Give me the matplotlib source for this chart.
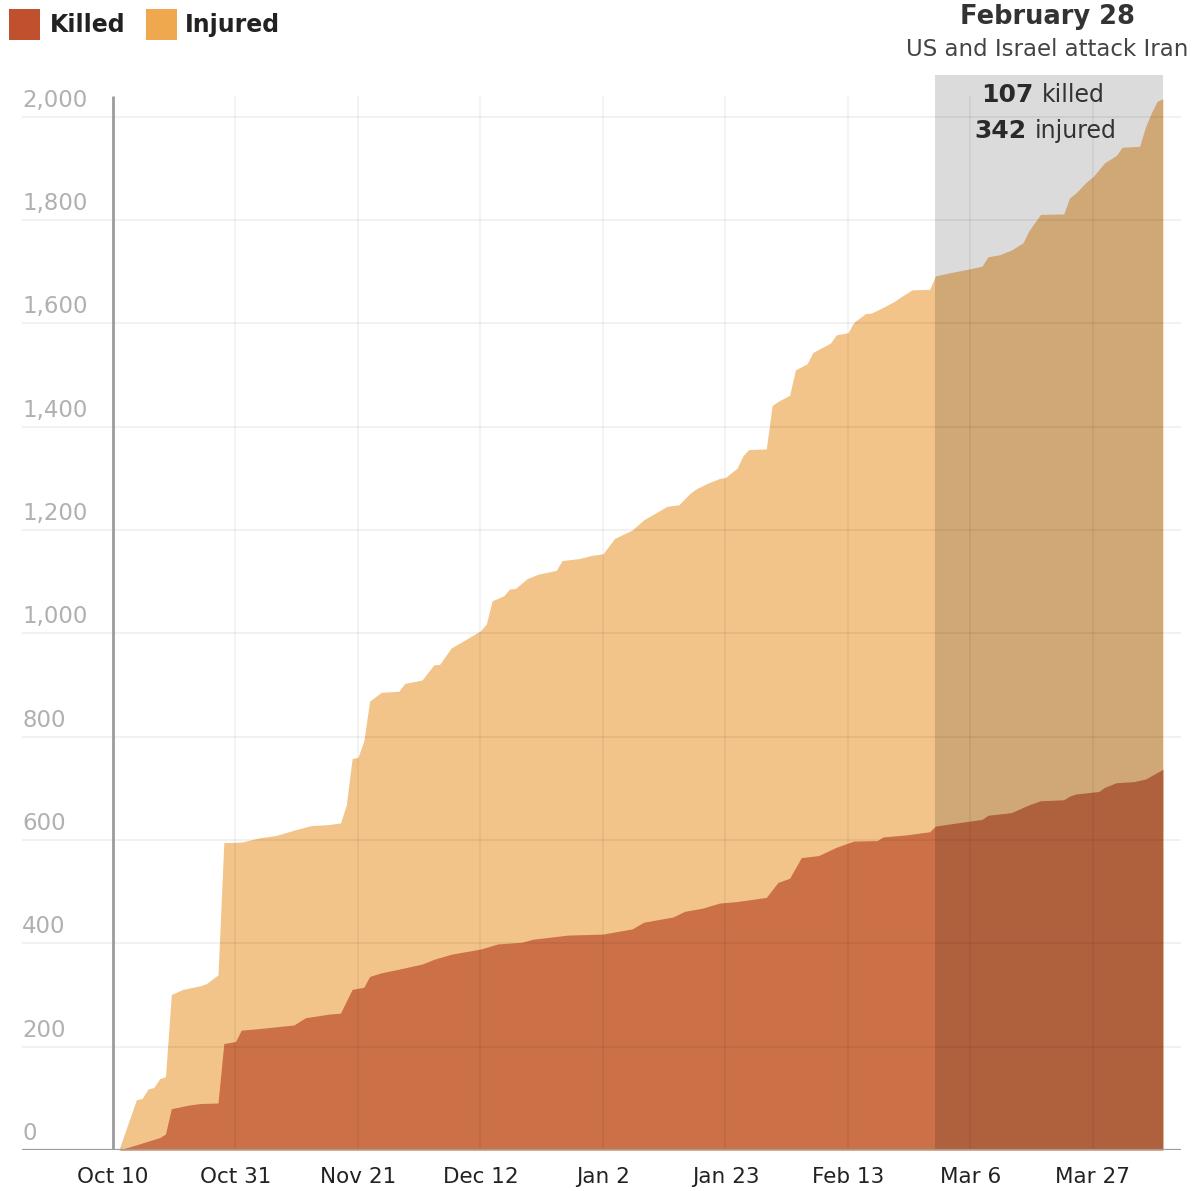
import numpy as np
import matplotlib
matplotlib.use("Agg")
import matplotlib.pyplot as plt
import matplotlib.dates as mdates
from matplotlib.patches import Rectangle

# ---------------- data ----------------
START = np.datetime64("2025-10-10")

# cumulative killed + injured (top of stack), by day since Oct 10, 2025
total_days = [1, 4, 5, 6, 7, 8, 9, 10, 12, 15, 16, 18, 19, 22, 25, 28, 31, 34, 37, 39,
              40, 41, 42, 43, 44, 46, 49, 50, 53, 55, 56, 58, 60, 63, 64, 65, 67, 68, 69,
              71, 73, 76, 77, 80, 82, 84, 86, 89, 91, 93, 95, 97, 99, 100, 102, 104, 105,
              107, 108, 109, 112, 113, 114, 116, 117, 119, 120, 121, 123, 124, 126, 127,
              129, 130, 132, 134, 135, 137, 140, 141, 143, 147, 149, 150, 152, 154, 156,
              157, 159, 163, 164, 165, 167, 168, 170, 172, 173, 176, 177, 178, 179, 180]
total_vals = [0, 97, 100, 118, 121, 138, 142, 301, 311, 318, 322, 339, 595, 596, 604, 609,
              619, 628, 630, 633, 668, 758, 760, 792, 869, 886, 888, 903, 910, 939, 940, 972,
              985, 1005, 1018, 1063, 1073, 1086, 1087, 1106, 1115, 1122, 1141, 1145, 1151,
              1154, 1184, 1200, 1220, 1233, 1246, 1249, 1272, 1280, 1291, 1300, 1302, 1320,
              1344, 1356, 1357, 1441, 1449, 1461, 1510, 1522, 1544, 1550, 1562, 1578, 1582,
              1602, 1619, 1620, 1631, 1643, 1651, 1665, 1666, 1692, 1697, 1706, 1711, 1729,
              1733, 1742, 1756, 1779, 1811, 1812, 1843, 1852, 1875, 1884, 1911, 1925, 1941,
              1943, 1980, 2007, 2030, 2035]

# cumulative killed (bottom of stack)
killed_days = [1, 4, 6, 8, 9, 10, 13, 15, 18, 19, 21, 22, 25, 31, 33, 37, 39, 41, 43, 44,
               46, 49, 51, 53, 55, 58, 63, 66, 70, 72, 78, 84, 89, 91, 96, 98, 101, 104,
               107, 112, 114, 116, 118, 121, 124, 127, 131, 132, 136, 140, 141, 144, 149,
               150, 154, 157, 159, 163, 164, 165, 169, 170, 172, 175, 177, 180]
killed_vals = [0, 10, 17, 24, 31, 80, 87, 90, 91, 206, 210, 232, 235, 242, 256, 263, 265,
               311, 315, 336, 343, 350, 355, 360, 369, 379, 389, 399, 402, 408, 416, 418,
               428, 441, 451, 462, 468, 478, 481, 489, 518, 526, 566, 570, 586, 598, 599,
               606, 610, 616, 627, 632, 640, 648, 653, 668, 676, 678, 685, 689, 694, 702,
               711, 713, 718, 737]

series_labels = ["Killed", "Injured"]
tick_dates = ["2025-10-10", "2025-10-31", "2025-11-21", "2025-12-12", "2026-01-02",
              "2026-01-23", "2026-02-13", "2026-03-06", "2026-03-27"]
tick_labels = ["Oct 10", "Oct 31", "Nov 21", "Dec 12", "Jan 2", "Jan 23", "Feb 13",
               "Mar 6", "Mar 27"]
y_ticks = [0, 200, 400, 600, 800, 1000, 1200, 1400, 1600, 1800, 2000]
y_labels = ["0", "200", "400", "600", "800", "1,000", "1,200", "1,400", "1,600",
            "1,800", "2,000"]
event_date = "2026-02-28"
end_date = "2026-04-08"
event_title = "February 28"
event_sub = "US and Israel attack Iran"
event_killed = "107"
event_injured = "342"

# ---------------- style ----------------
plt.rcParams["font.family"] = ["DejaVu Sans"]
KILLED_AREA = "#cc7048"
INJ_AREA = "#f2c489"
KILLED_KEY = "#c1512e"
INJ_KEY = "#f0a84f"
W, H = 1201, 1191

fig = plt.figure(figsize=(W / 100, H / 100), dpi=100)


def fx(px):
    return px / W


def fy(py):
    return 1 - py / H


ax = fig.add_axes([fx(22), fy(1150), (1181 - 22) / W, (1150 - 60) / H])

td = START + np.array(total_days).astype("timedelta64[D]")
kd = START + np.array(killed_days).astype("timedelta64[D]")
ax.fill_between(td, 0, total_vals, color=INJ_AREA, lw=0, zorder=1)
ax.fill_between(kd, 0, killed_vals, color=KILLED_AREA, lw=0, zorder=2)

x0 = mdates.date2num(START)
ax.set_xlim(x0 - 15.6, x0 + 183.1)
ax.set_ylim(0, 2110)

# shaded event window
xe = mdates.date2num(np.datetime64(event_date))
xend = mdates.date2num(np.datetime64(end_date))
ax.add_patch(Rectangle((xe, 0), xend - xe, 2080, facecolor="black", alpha=0.14,
                       lw=0, zorder=4))

# grid
for v in y_ticks[1:]:
    ax.axhline(v, color="black", alpha=0.07, lw=1.1, zorder=5)
tdn = [mdates.date2num(np.datetime64(d)) for d in tick_dates]
for t in tdn[1:]:
    ax.vlines(t, 0, 2040, color="black", alpha=0.06, lw=1.1, zorder=5)
ax.vlines(tdn[0], 0, 2040, color="#9c9c9c", lw=2, zorder=6)
ax.axhline(0, color="#9c9c9c", lw=1.6, zorder=6)

for s in ax.spines.values():
    s.set_visible(False)
ax.set_yticks([])
ax.set_xticks(tdn)
ax.set_xticklabels(tick_labels, fontsize=15.5, color="#222222")
ax.tick_params(axis="x", length=0, pad=12)
ax.patch.set_alpha(0)

# y labels above grid lines
for v, lab in zip(y_ticks, y_labels):
    ax.annotate(lab, xy=(0, v), xycoords=("axes fraction", "data"),
                xytext=(0, 7.2), textcoords="offset points", ha="left",
                va="baseline", fontsize=16.5, color="#b0b0b0", zorder=7)

# legend
fig.add_artist(Rectangle((fx(9), fy(40)), 31 / W, 31 / H, transform=fig.transFigure,
                         facecolor=KILLED_KEY, lw=0))
fig.add_artist(Rectangle((fx(146), fy(40)), 31 / W, 31 / H, transform=fig.transFigure,
                         facecolor=INJ_KEY, lw=0))
fig.text(fx(50), fy(25), series_labels[0], fontsize=17, fontweight="bold",
         color="#222222", ha="left", va="center")
fig.text(fx(185), fy(25), series_labels[1], fontsize=17, fontweight="bold",
         color="#222222", ha="left", va="center")

# event annotation
fig.text(fx(1047), fy(17), event_title, fontsize=18.5, fontweight="bold",
         color="#333333", ha="center", va="center")
fig.text(fx(1047), fy(49), event_sub, fontsize=16.5, color="#444444",
         ha="center", va="center")
fig.text(fx(1034), fy(95), event_killed, fontsize=18, fontweight="bold",
         color="#2a2a2a", ha="right", va="center", zorder=8)
fig.text(fx(1042), fy(95), "killed", fontsize=17, color="#333333",
         ha="left", va="center", zorder=8)
fig.text(fx(1027), fy(131), event_injured, fontsize=18, fontweight="bold",
         color="#2a2a2a", ha="right", va="center", zorder=8)
fig.text(fx(1035), fy(131), "injured", fontsize=17, color="#333333",
         ha="left", va="center", zorder=8)

fig.savefig("out.png", dpi=100)
